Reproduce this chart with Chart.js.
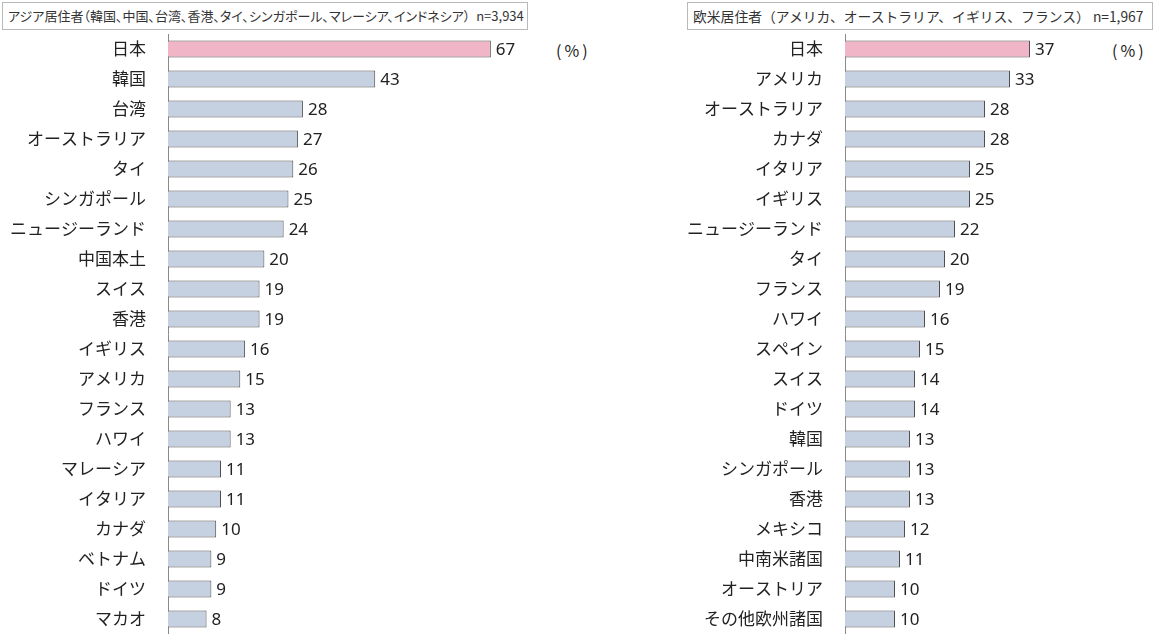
<!DOCTYPE html>
<html lang="ja">
<head>
<meta charset="utf-8">
<script src="https://cdn.jsdelivr.net/npm/chart.js@4/dist/chart.umd.min.js"></script>
<style>
  html, body { margin: 0; padding: 0; background: #fff; }
  body { width: 1160px; height: 644px; position: relative; overflow: hidden;
         font-family: "Noto Sans CJK JP", "Noto Sans", sans-serif; color: #222; }
  .head { position: absolute; top: 2px; height: 28px; border: 1px solid #b8b8b8;
          box-sizing: border-box; line-height: 26px; padding-left: 5px;
          white-space: nowrap; color: #333; overflow: hidden; }
  .pct { position: absolute; top: 38px; font-size: 16px; color: #222; letter-spacing: 3px; }
  .box { position: absolute; top: 34px; width: 580px; height: 600px; }
</style>
</head>
<body>
<div class="head" style="left:2px;width:526px;font-size:13px;font-feature-settings:'palt';">アジア居住者（韓国、中国、台湾、香港、タイ、シンガポール、マレーシア、インドネシア）&nbsp;&nbsp;n=3,934</div>
<div class="head" style="left:687px;width:466px;font-size:13.8px;">欧米居住者（アメリカ、オーストラリア、イギリス、フランス）&nbsp;n=1,967</div>
<div class="pct" style="left:556px;">(%)</div>
<div class="pct" style="left:1112px;">(%)</div>
<div class="box" style="left:0px;"><canvas id="asiaChart"></canvas></div>
<div class="box" style="left:580px;"><canvas id="westChart"></canvas></div>
<script>
// アジア居住者
const asiaLabels = ['日本', '韓国', '台湾', 'オーストラリア', 'タイ', 'シンガポール', 'ニュージーランド', '中国本土', 'スイス', '香港',
    'イギリス', 'アメリカ', 'フランス', 'ハワイ', 'マレーシア', 'イタリア', 'カナダ', 'ベトナム', 'ドイツ', 'マカオ'];
const asiaValues = [67, 43, 28, 27, 26, 25, 24, 20, 19, 19, 16, 15, 13, 13, 11, 11, 10, 9, 9, 8];
// 欧米居住者
const westLabels = ['日本', 'アメリカ', 'オーストラリア', 'カナダ', 'イタリア', 'イギリス', 'ニュージーランド', 'タイ', 'フランス', 'ハワイ',
    'スペイン', 'スイス', 'ドイツ', '韓国', 'シンガポール', '香港', 'メキシコ', '中南米諸国', 'オーストリア', 'その他欧州諸国'];
const westValues = [37, 33, 28, 28, 25, 25, 22, 20, 19, 16, 15, 14, 14, 13, 13, 13, 12, 11, 10, 10];

const colorJapan = '#f0b5c6';
const colorOther = '#c5d0e1';
const colorBorder = '#505050';

// 値ラベル
const valueLabels = {
    id: 'valueLabels',
    afterDatasetsDraw(chart) {
        const ctx = chart.ctx;
        const meta = chart.getDatasetMeta(0);
        ctx.save();
        ctx.font = '17px "Noto Sans", "Noto Sans CJK JP", sans-serif';
        ctx.fillStyle = '#222';
        ctx.textBaseline = 'middle';
        ctx.textAlign = 'left';
        meta.data.forEach((bar, i) => {
            ctx.fillText(chart.data.datasets[0].data[i], bar.x + 5, bar.y + 1);
        });
        ctx.restore();
    }
};

function makeChart(id, labels, values, axisWidth, xMax) {
    const ctx = document.getElementById(id).getContext('2d');
    return new Chart(ctx, {
        type: 'bar',
        data: {
            labels: labels,
            datasets: [{
                data: values,
                backgroundColor: labels.map(l => l === '日本' ? colorJapan : colorOther),
                borderColor: colorBorder,
                borderWidth: 1,
                barPercentage: 0.57,
                categoryPercentage: 1.0
            }]
        },
        options: {
            indexAxis: 'y',
            responsive: true, maintainAspectRatio: false, animation: false,
            layout: { padding: 0 },
            plugins: { legend: { display: false }, tooltip: { enabled: false }, title: { display: false } },
            scales: {
                x: { display: false, min: 0, max: xMax },
                y: {
                    grid: { display: false },
                    border: { display: true, color: '#8a8a8a', width: 1 },
                    ticks: { color: '#222', padding: 14, autoSkip: false,
                             font: { family: '"Noto Sans CJK JP", sans-serif', size: 17 } },
                    afterFit: (scale) => { scale.width = axisWidth; scale.paddingTop = 0; scale.paddingBottom = 0; }
                }
            }
        },
        plugins: [valueLabels]
    });
}

makeChart('asiaChart', asiaLabels, asiaValues, 168, 85.5);
makeChart('westChart', westLabels, westValues, 265, 63);
</script>
</body>
</html>
